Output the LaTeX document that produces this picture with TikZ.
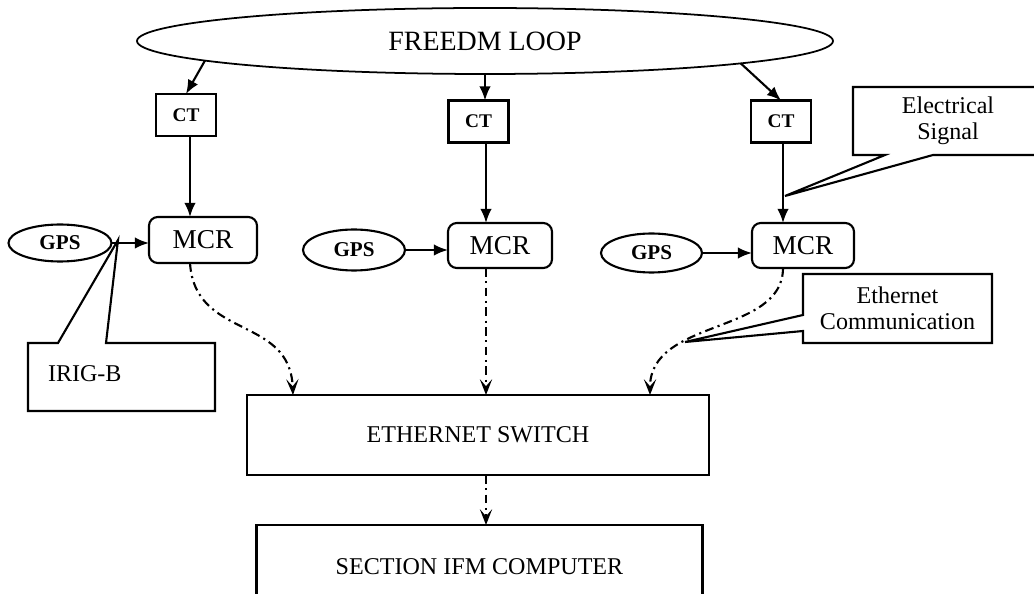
\documentclass[tikz,border=0pt]{standalone}
\usepackage{fontspec}
\setmainfont{Liberation Serif}
\usetikzlibrary{shapes.geometric,arrows.meta,calc}
\def\pxu{0.02cm}
\begin{document}
\begin{tikzpicture}[x=0.02cm,y=-0.02cm,
  line width=1.2pt,
  every node/.style={inner sep=0pt, outer sep=0pt},
  loopell/.style={draw, ellipse, line width=1pt, minimum width=696*\pxu, minimum height=66*\pxu,
    font=\fontsize{15.9}{18}\selectfont},
  ctbox/.style={draw, rectangle, minimum width=60*\pxu, minimum height=42*\pxu,
    font=\fontsize{11}{13}\selectfont\bfseries},
  mcrbox/.style={draw, rectangle, rounded corners=5pt, minimum width=104*\pxu,
    minimum height=46*\pxu, font=\fontsize{15.5}{18}\selectfont},
  gpsell/.style={draw, ellipse, minimum width=102*\pxu, minimum height=38*\pxu,
    font=\fontsize{12}{14}\selectfont\bfseries},
  bigbox/.style={draw, rectangle, font=\fontsize{13.7}{16}\selectfont},
  notebox/.style={rectangle, align=center, font=\fontsize{13.7}{14.7}\selectfont},
  note/.style={draw, line join=miter},
  sig/.style={-{Latex[length=8pt,width=6.5pt]}},
  net/.style={-{Stealth[length=9pt,width=7pt,inset=4pt]},
    dash pattern=on 5pt off 2.5pt on 1.2pt off 2.5pt}
]
\useasboundingbox (0,0) rectangle (1034,594);
\clip (0,0) rectangle (1034,594);

% main blocks
\node[loopell] (loop) at (485,41) {FREEDM LOOP};

\node[ctbox] (ct1) at (186,115) {CT};
\node[ctbox] (ct2) at (478.5,121.5) {CT};
\node[ctbox] (ct3) at (781,121.5) {CT};

\node[mcrbox, minimum width=108*\pxu] (mcr1) at (203,240) {MCR};
\node[mcrbox, minimum height=45*\pxu] (mcr2) at (500,245.5) {MCR};
\node[mcrbox, minimum width=102*\pxu, minimum height=45*\pxu] (mcr3) at (803,245.5) {MCR};

\node[gpsell, minimum width=103*\pxu, minimum height=37*\pxu] (gps1) at (60,243) {GPS};
\node[gpsell, minimum height=41*\pxu] (gps2) at (354,250) {GPS};
\node[gpsell, minimum width=101*\pxu, minimum height=39*\pxu] (gps3) at (651.5,253) {GPS};

\node[bigbox, minimum width=462*\pxu, minimum height=80*\pxu] (switch) at (478,435) {ETHERNET SWITCH};
\node[bigbox, minimum width=446*\pxu, minimum height=84*\pxu] (comp) at (479.5,567) {SECTION IFM COMPUTER};

% signal columns
\coordinate (col1) at (190,0);
\coordinate (col2) at (486,0);
\coordinate (col3) at (783,0);
\coordinate (sw1) at ($(switch.north west)+(46,0)$);
\coordinate (sw3) at ($(switch.north west)+(403,0)$);

% callouts
\node[notebox, minimum width=187*\pxu, minimum height=68*\pxu] (irig) at (121.5,377) {};
\node[anchor=west, font=\fontsize{13.7}{16}\selectfont] (irigtext) at (48,374) {IRIG-B};
\coordinate (irigtip) at (118,240);
\draw[note] (irig.north west) -- ($(irig.north west)+(30,0)$) -- (irigtip)
  -- ($(irig.north west)+(78,0)$) -- (irig.north east) -- (irig.south east)
  -- (irig.south west) -- cycle;

\node[notebox, minimum width=190*\pxu, minimum height=68*\pxu] (elec) at (948,121)
  {Electrical\\Signal};
\coordinate (electip) at (785,196);
\draw[note] (elec.north west) -- (elec.north east) -- (elec.south east)
  -- ($(elec.south west)+(80,0)$) -- (electip) -- ($(elec.south west)+(32,0)$)
  -- (elec.south west) -- cycle;

\node[notebox, minimum width=189*\pxu, minimum height=69*\pxu] (ecom) at (897.5,308.5)
  {Ethernet\\Communication};
\coordinate (ecomtip) at (685,342);
\draw[note] (ecom.north west) -- (ecom.north east) -- (ecom.south east)
  -- (ecom.south west) -- ($(ecom.south west)+(0,-12)$) -- (ecomtip)
  -- ($(ecom.north west)+(0,41)$) -- cycle;

% loop to current transformers
\draw[sig] (loop.184.4) -- (ct1.north);
\draw[sig] (loop.south) -- (loop.south |- ct2.north);
\draw[sig] (loop.355.5) -- (ct3.north);

% current transformers to MCRs
\draw[sig] (ct1.south -| col1) -- (mcr1.north -| col1);
\draw[sig] (ct2.south -| col2) -- (mcr2.north -| col2);
\draw[sig] (ct3.south -| col3) -- (mcr3.north -| col3);

% GPS time signals
\draw[sig] (gps1.east) -- (gps1.east -| mcr1.west);
\draw[sig] (gps2.east) -- (gps2.east -| mcr2.west);
\draw[sig] (gps3.east) -- (gps3.east -| mcr3.west);

% ethernet links
\draw[net] (mcr1.south -| col1) .. controls (195,340) and (290,315) .. (sw1);
\draw[net] (mcr2.south -| col2) -- (switch.north -| col2);
\draw[net] (mcr3.south -| col3) .. controls (783,335) and (650,318) .. (sw3);
\draw[net] (switch.south -| col2) -- (comp.north -| col2);
\end{tikzpicture}
\end{document}
